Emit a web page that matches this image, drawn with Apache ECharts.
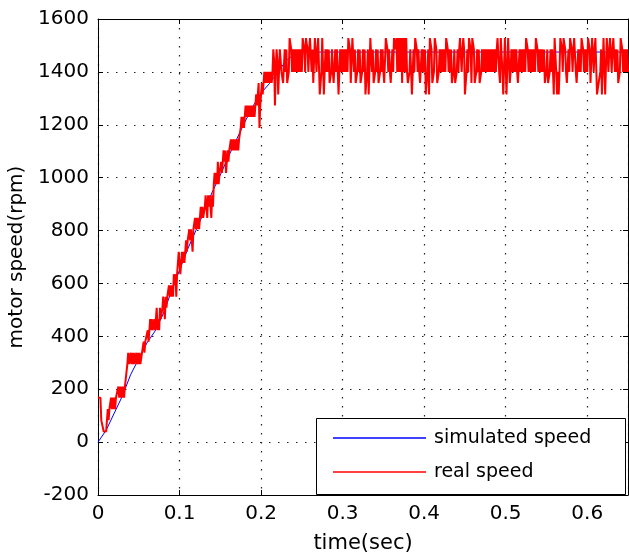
<!DOCTYPE html>
<html>
<head>
<meta charset="utf-8">
<script src="https://cdn.jsdelivr.net/npm/echarts@6/dist/echarts.min.js"></script>
<style>
  html, body { margin: 0; padding: 0; background: #fff; }
  #speed-chart { width: 629px; height: 554px; }
</style>
</head>
<body>
<div id="speed-chart"></div>
<script>
// simulated speed (rpm) against time (sec)
var simTime = [0, 0.01, 0.02, 0.03, 0.04, 0.05, 0.06, 0.07, 0.08, 0.09, 0.10, 0.11, 0.12,
  0.13, 0.14, 0.15, 0.16, 0.17, 0.18, 0.19, 0.20, 0.21, 0.22, 0.23, 0.24, 0.25, 0.65];
var simSpeed = [0, 45, 110, 175, 255, 315, 375, 420, 485, 570, 650, 730, 800,
  870, 945, 1010, 1080, 1145, 1210, 1270, 1320, 1355, 1395, 1440, 1465, 1475, 1475];

// real speed: encoder levels (rpm), one base-36 code per 1 ms sample
var realLevels = [40, 83, 125, 168, 210, 253, 295, 338, 380, 423, 465, 508, 550, 593, 635, 678,
  720, 763, 805, 848, 890, 933, 975, 1018, 1060, 1103, 1145, 1188, 1230, 1273, 1315, 1358,
  1400, 1443, 1485, 1528];
var realStep = 0.001;
var realCodes =
  // ramp 0 - 0.225 s
  "3333" + "111" + "0000" + "121" + "2232323233" + "343434343444" +
  "6766767676676767667" + "78788898" + "9a9a99a" + "9ab9a9ba" + "abcbacbc" +
  "cdcdcd" + "cedec" + "efgfefgfgf" + "ghgh" + "hihihgi" + "ijijiji" + "jkjkj" +
  "jklkjlklkjlk" + "mnmnmomn" + "nonopopnopop" + "pqpqpqpqpqpq" + "qrsrsr" +
  "ststststststs" + "tutuvrtuvu" + "vwvwvwvwvwv" + "wyxtwyxuwyxw" +
  // steady state 0.226 - 0.65 s
  "wvvywyvvwz" + "zywywywywy" + "wywywzzywz" + "zywyzzwyvv" + "zzwyzzuuwz" +
  "zuuywywyvv" + "wywvvywywu" + "uywywywywy" + "wzzyvvzzwy" + "vvwywyvvwy" +
  "wyuuwyuuzz" + "wyvvwywyvv" + "wywywvvzzy" + "wywvvywzzy" + "zwzwzwzvzw" +
  "zwzwvvwywu" + "uywzzywywv" + "vywywyuuwy" + "uzzyvvwzzy" + "vvwywywywy" +
  "wzzywywyvv" + "wyvvwywyzz" + "wyzyuuwywz" + "zyvzzyvvwy" + "wyvvwywywy" +
  "wywywywywy" + "wywyzzwvzz" + "wuuzzuuzzv" + "wywywywywv" + "vywywywywz" +
  "zywywywywy" + "wzzywywywy" + "wyvvwyvvwy" + "wywuzzwuwu" + "wzzywzzywv" +
  "vywzzywyzz" + "wvvywywzzy" + "wywywzzyvv" + "zzwyzzuuvv" + "wyuuzzuuzz" +
  "wyzzwyzzwy" + "wyvvwzzywy" + "wywyw";

var simData = simTime.map(function (t, i) { return [t, simSpeed[i]]; });
var realData = realCodes.split("").map(function (c, i) {
  return [i * realStep, realLevels[parseInt(c, 36)]];
});

var font = "DejaVu Sans";
var black = "#000";
var gridDots = { show: true, lineStyle: { color: "#222", width: 1.2, type: [1.5, 7.5] } };

function boxAxis(extra) {
  var base = {
    type: "value",
    axisLine: { show: true, onZero: false, lineStyle: { color: black, width: 1 } },
    axisTick: { show: true, inside: true, length: 5, lineStyle: { color: black } },
    axisLabel: { show: false },
    splitLine: { show: false }
  };
  return Object.assign(base, extra);
}

var chart = echarts.init(document.getElementById("speed-chart"));
chart.setOption({
  animation: false,
  backgroundColor: "#fff",
  textStyle: { fontFamily: font },
  // fixed plot box, the axis name may run to the bottom edge like the original
  grid: { left: 98, right: 1, top: 19, bottom: 59, outerBoundsMode: "none" },
  xAxis: [
    boxAxis({
      min: 0, max: 0.65, interval: 0.1,
      name: "time(sec)", nameLocation: "middle", nameGap: 38,
      nameTextStyle: { fontSize: 21, color: black, fontFamily: font },
      axisLabel: { show: true, fontSize: 20, color: black, margin: 9, showMaxLabel: false, fontFamily: font },
      splitLine: gridDots
    }),
    boxAxis({ min: 0, max: 0.65, interval: 0.1, position: "top" })
  ],
  yAxis: [
    boxAxis({
      min: -200, max: 1600, interval: 200,
      name: "motor speed(rpm)", nameLocation: "middle", nameGap: 68,
      nameTextStyle: { fontSize: 20, color: black, fontFamily: font },
      axisLabel: {
        show: true, fontSize: 20, color: black, margin: 9, fontFamily: font,
        formatter: function (v) { return String(v); }
      },
      splitLine: gridDots
    }),
    boxAxis({ min: -200, max: 1600, interval: 200, position: "right" })
  ],
  graphic: [{
    type: "rect", z: 10,
    shape: { x: 316.5, y: 418.5, width: 309, height: 76 },
    style: { fill: "#fff", stroke: black, lineWidth: 1 }
  }],
  legend: {
    data: ["simulated speed", "real speed"],
    orient: "vertical", left: 333, top: 428, z: 20, padding: 0,
    icon: "rect", itemWidth: 93, itemHeight: 1.5, itemGap: 14,
    textStyle: { fontSize: 19, color: black, lineHeight: 20, fontFamily: font, padding: [0, 0, 0, 3] }
  },
  series: [
    {
      name: "simulated speed", type: "line", data: simData, symbol: "none",
      lineStyle: { color: "#0000ff", width: 1 }, itemStyle: { color: "#0000ff" }, z: 2
    },
    {
      name: "real speed", type: "line", data: realData, symbol: "none",
      lineStyle: { color: "#ff0000", width: 2 }, itemStyle: { color: "#ff0000" }, z: 3
    }
  ]
});
</script>
</body>
</html>
